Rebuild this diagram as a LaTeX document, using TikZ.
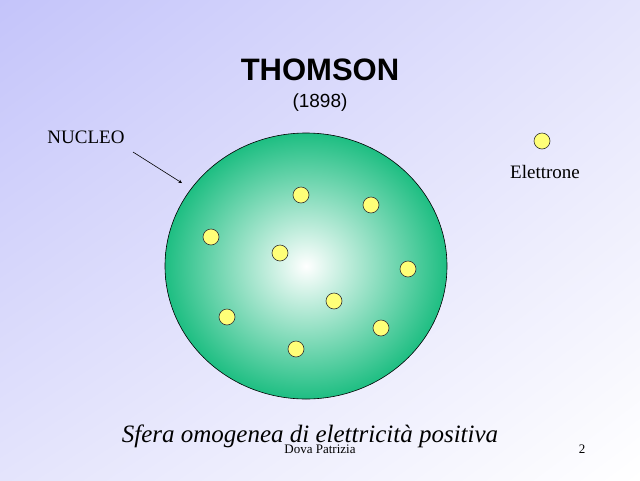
\documentclass[tikz,border=0pt]{standalone}
\usepackage{fontspec}
\usetikzlibrary{shadings}
\setmainfont{Liberation Serif}
\setsansfont{Liberation Sans}
\definecolor{bgA}{RGB}{196,196,250}
\definecolor{bgB}{RGB}{228,228,252}
\definecolor{nucG}{RGB}{30,190,130}
\definecolor{elY}{RGB}{255,255,120}
\begin{document}
\begin{tikzpicture}[x=1pt,y=-1pt,
  el/.style={circle,draw=black!80,fill=elY,minimum size=16pt,inner sep=0pt,line width=0.6pt}]
\useasboundingbox (0,0) rectangle (640,480);
\shade[upper left=bgA,upper right=bgB,lower left=bgB,lower right=white] (0,0) rectangle (640,480);
\shade[inner color=white,outer color=nucG] (306,266) ellipse [x radius=141,y radius=133];
\draw[black,line width=0.6pt] (306,266) ellipse [x radius=141,y radius=133];
\coordinate (nuc) at (182,183);
\foreach \n/\p in {e1/{301,195},e2/{371,205},e3/{211,237},e4/{280,253},e5/{408,269},e6/{334,301},e7/{227,317},e8/{381,328},e9/{296,349},eL/{542,141}}
  \node[el] (\n) at (\p) {};
\node[font=\sffamily\bfseries\fontsize{31}{36}\selectfont] (t) at (320,70) {THOMSON};
\node[font=\sffamily\fontsize{19}{22}\selectfont] (y) at (320,103) {(1898)};
\node[font=\fontsize{19}{22}\selectfont] (nl) at (86,137) {NUCLEO};
\draw[-stealth,line width=0.6pt] (133,152) -- (nuc);
\node[font=\fontsize{19}{22}\selectfont] (elt) at (545,172) {Elettrone};
\node[font=\itshape\fontsize{25}{28}\selectfont] (s) at (310,436) {Sfera omogenea di elettricità positiva};
\node[font=\fontsize{13}{15}\selectfont] (a) at (320,449) {Dova Patrizia};
\node[font=\fontsize{13}{15}\selectfont] (n) at (582,449) {2};
\end{tikzpicture}
\end{document}
